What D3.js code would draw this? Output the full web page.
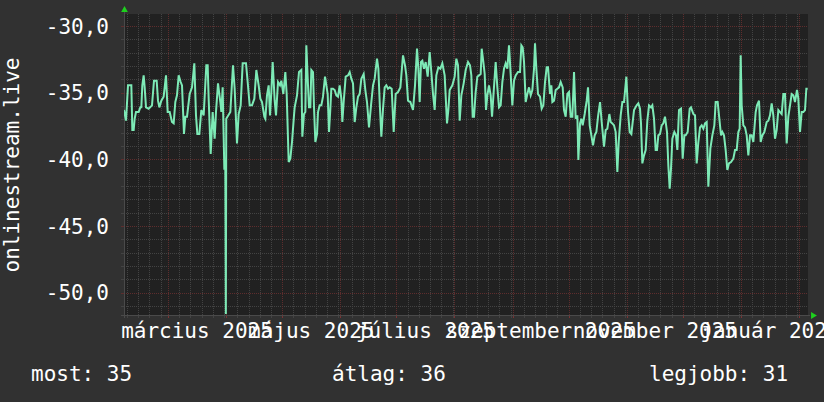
<!DOCTYPE html>
<html lang="hu">
<head>
<meta charset="UTF-8">
<title>onlinestream.live</title>
<style>
  body { margin: 0; background: #313131; }
  svg text { font-family: "DejaVu Sans Mono", monospace; font-size: 21px; fill: #fff; }
</style>
</head>
<body>
<svg id="chart" width="824" height="402"></svg>
<script src="https://d3js.org/d3.v7.min.js"></script>
<script>
// day 0 = left edge of the graph
var startDate = Date.UTC(2025, 1, 5, 12);
var totalDays = 365.3;

var dayOffsets = [
  0, 1.07, 2.14, 3.92, 4.45, 5.16, 5.7, 6.41, 7.83, 8.72, 9.26, 9.79, 10.5, 11.04, 11.75, 13.17, 14.95, 16.02, 17.45, 18.16,
  18.87, 19.94, 21.18, 22.43, 23.32, 24.39, 25.63, 26.53, 27.41, 28.3, 29.2, 30.26, 30.98, 32.04, 32.76, 33.65, 35.07, 36.32, 37.56, 38.45,
  39.17, 40.23, 41.3, 42.55, 43.97, 44.68, 45.22, 46.29, 47.35, 48.42, 49.13, 50.2, 51.45, 51.98, 52.69, 53.58, 54.12, 54.4, 54.6, 56.79,
  58.21, 59.1, 60.35, 61.24, 62.31, 63.38, 65.16, 66.05, 67.12, 68.36, 69.61, 70.68, 71.92, 72.81, 73.7, 74.95, 75.48, 76.37, 77.26, 77.98,
  78.69, 79.4, 80.47, 81.18, 82.25, 83.32, 84.03, 85.1, 86.16, 86.88, 87.95, 88.83, 89.73, 90.79,
  91.15, 92.4, 93.46, 94.71, 95.24, 96.13, 96.85, 97.38, 98.27, 98.81, 99.52, 100.05, 100.94, 101.48, 102.19, 103.08, 103.61, 104.5, 105.39, 106.28,
  107.35, 108.06, 108.77, 109.49, 110.2, 110.73, 111.62, 112.51, 113.4, 114.29, 115.18, 116.07, 116.61, 117.32, 118.39, 119.63, 120.53, 121.41, 122.31, 123.2,
  124.09, 124.98, 125.87, 126.76, 128, 128.89, 129.78, 130.85, 131.92, 132.99, 133.88, 135.12, 135.84, 136.55, 137.44, 138.33, 139.22, 140.11, 141, 141.89,
  142.96, 144.03, 145.09, 146.34, 147.59, 149.01, 150.08, 150.79, 151.68, 152.93, 154.35, 155.42, 156.49, 157.2, 157.91, 158.62, 159.34, 160.22, 161.12, 162.19,
  163.25, 164.14, 165.03, 165.92, 166.81, 167.88, 168.95, 170.02, 171.26, 172.51, 173.22, 173.93, 175.36, 176.6, 177.49, 178.39, 179.28, 180.17, 181.41,
  182.48, 183.73, 184.79, 185.5, 186.22, 186.93, 187.82, 188.71, 189.6, 190.49, 191.03, 191.92, 192.63, 193.34, 194.05, 194.94, 195.83, 196.55, 197.26, 198.5,
  199.39, 200.28, 201.17, 202.06, 202.95, 203.84, 204.73, 205.62, 206.51, 207.4, 208.29, 209.18, 210.43, 211.5, 212.21, 212.92, 213.64, 214.53, 215.42, 216.31,
  217.2, 218.09, 218.98, 219.51, 220.22, 221.11, 222.18, 223.07, 223.96, 224.85, 225.74, 226.45, 227.52, 228.23, 228.77, 229.66, 230.55, 231.44, 232.33, 233.22,
  234.29, 235, 235.89, 236.78, 237.67, 238.56, 239.45, 240.34, 241.23, 242.12, 242.66, 243.55, 244.26, 244.97, 246.04, 247.11, 247.82, 248.71, 249.6, 250.49,
  251.38, 252.27, 253.16, 254.23, 255.12, 256.36, 257.25, 258.14, 259.21, 259.92, 260.81, 261.7, 262.59, 263.48, 264.2, 265.26, 266.16, 267.04, 268.29, 269.18,
  270.07, 270.96, 272.39,
  273.8, 274.69, 275.58, 276.11, 276.83, 277.72, 278.61, 279.5, 280.39, 281.46, 282.17, 283.06, 283.95, 284.66, 285.37, 286.26, 287.15, 288.04, 288.93, 290,
  290.71, 291.43, 292.14, 292.85, 293.92, 294.81, 295.52, 296.41, 297.48, 298.37, 299.26, 299.97, 301.04, 302.11, 302.82, 304.07, 304.96, 305.85, 306.74, 307.63,
  308.52, 309.41, 310.3, 311.19, 312.08, 313.15, 314.22, 315.28, 315.99, 317.06, 317.77, 318.84, 319.55, 320.44, 321.33, 322.22, 323.11, 324.18, 325.43, 326.32,
  327.21, 328.1, 328.81, 329.35, 329.88, 330.77, 331.66, 332.55, 333.44, 334.33, 335.22, 336.11, 337.36, 338.07, 339.14, 340.03, 340.92, 341.99, 343.23, 344.12,
  345.01, 345.9, 346.79, 347.68, 348.57, 349.46, 350.35, 351.24, 352.13, 353.02, 353.91, 354.8, 355.69, 356.58, 357.47, 358.36, 359.43, 360.14, 361.03, 361.92,
  362.81, 363.7, 364.42, 365.13
];

var values = [
  -36.3, -37.1, -34.45, -34.45, -37.8, -37.8, -36.95, -36.45, -36.45, -36.1, -36.1, -34.45, -33.7, -34.6, -36.1, -36.2, -35.95, -34.1, -34.1, -35.6,
  -36.1, -35.6, -35.3, -33.7, -36.45, -36.45, -37.2, -37.3, -35.7, -35.2, -33.7, -34.2, -34.45, -38.1, -36.8, -36.8, -35.1, -34.6, -32.8, -36.7,
  -38.1, -38.1, -36.3, -36.7, -32.95, -32.95, -35.45, -39.6, -36.45, -38.45, -36.45, -34.3, -35.7, -36.45, -34.6, -40.7, -40.7, -51.6, -36.95, -36.45,
  -32.95, -34.7, -38.8, -36.6, -35.95, -32.8, -32.8, -34.2, -35.95, -35.95, -35.45, -33.3, -34.45, -35.45, -35.7, -36.8, -36.95, -35.2, -34.45, -36.7,
  -34.95, -32.7, -35.6, -36.7, -34.2, -34.45, -34.1, -35.1, -33.45, -35.1, -40.2, -39.95, -38.7, -36.7,
  -36.1, -35.2, -33.45, -33.3, -38.3, -36.6, -36.45, -31.45, -34.45, -36.1, -36.1, -33.3, -33.45, -36.1, -38.7, -38.1, -36.45, -35.95, -35.95, -35.3,
  -33.8, -34.45, -35.1, -37.95, -36.2, -34.7, -34.7, -34.8, -35.2, -35.3, -34.45, -35.45, -37.2, -35.7, -33.8, -33.7, -33.45, -33.95, -34.3, -37.2,
  -36.1, -35.3, -35.1, -33.95, -33.6, -34.8, -35.7, -37.6, -35.95, -34.45, -33.95, -32.45, -33.2, -35.7, -38.3, -36.2, -34.6, -34.45, -34.7, -34.6,
  -34.7, -37.95, -35.1, -34.95, -34.6, -32.2, -32.95, -33.7, -35.6, -35.7, -36.3, -34.45, -31.7, -33.2, -35.7, -32.7, -32.6, -33.2, -32.7, -33.8,
  -31.95, -33.45, -35.1, -36.3, -33.7, -33.1, -33.2, -32.8, -33.7, -37.3, -36.3, -34.8, -34.45, -33.8, -32.45, -32.95, -37.1, -35.2, -34.3,
  -33.3, -32.7, -32.95, -33.7, -36.8, -36.8, -34.95, -33.8, -33.7, -33.6, -31.7, -32.7, -33.6, -36.3, -35.2, -34.45, -35.2, -36.8, -35.3, -32.7,
  -34.6, -36.1, -35.95, -34.2, -33.2, -32.8, -33.2, -31.45, -33.6, -35.95, -34.1, -33.7, -33.45, -33.45, -31.45, -31.6, -32.7, -35.7, -35.1, -34.6,
  -35.2, -34.8, -33.2, -31.3, -33.2, -35.1, -35.3, -36.2, -35.95, -34.2, -33.1, -33.1, -35.1, -34.45, -35.7, -35.6, -34.8, -34.7, -34.6, -34.2,
  -34.6, -36.3, -36.8, -35.1, -34.95, -36.8, -36.8, -33.45, -36.95, -36.7, -40.05, -37.3, -36.95, -37.45, -36.6, -35.6, -34.6, -37.45, -38.2, -38.95,
  -38.2, -37.95, -36.8, -35.7, -37.2, -39.05, -37.8, -37.7, -36.6, -37.2, -37.3, -37.45, -37.95, -40.95, -38.7, -36.7, -35.7, -35.7, -33.8, -36.45,
  -37.95, -38.1, -36.3,
  -35.95, -35.8, -36.2, -37.3, -40.3, -39.7, -39.3, -37.1, -35.95, -36.1, -35.95, -36.95, -39.3, -39.3, -38.2, -38.1, -37.45, -37.3, -36.8, -37.95,
  -40.45, -42.2, -40.7, -38.45, -37.95, -38.2, -39.3, -36.3, -36.2, -39.95, -38.2, -38.2, -37.95, -36.2, -36.1, -36.6, -36.7, -40.3, -38.7, -37.6,
  -37.45, -37.7, -37.3, -37.2, -42.05, -39.2, -38.2, -37.45, -35.7, -35.7, -36.7, -38.2, -37.95, -38.2, -39.3, -40.8, -40.3, -40.2, -39.95, -39.3,
  -39.3, -37.95, -37.7, -32.2, -35.95, -37.45, -37.6, -38.2, -39.7, -38.2, -38.2, -38.7, -36.45, -35.95, -35.6, -38.7, -38.2, -37.95, -37.2, -37.1,
  -36.7, -35.8, -36.7, -38.45, -37.8, -36.3, -36.45, -36.6, -35.1, -35.1, -38.8, -36.8, -35.95, -35.1, -35.2, -35.7, -34.8, -35.45, -37.95, -36.45,
  -36.45, -36.3, -34.7, -34.7
];

var yTicks = [-50, -45, -40, -35, -30];
var labelMonths = [[2025, 2], [2025, 4], [2025, 6], [2025, 8], [2025, 10], [2026, 0]];
var monthLabels = ["március 2025", "május 2025", "július 2025", "szeptember 2025", "november 2025", "január 2026"];
var yTitle = "onlinestream.live";
var legendItems = ["most: 35", "átlag: 36", "legjobb: 31"];

var svg = d3.select("#chart");
var plotL = 124, plotR = 808, plotT = 14, plotB = 315;

var x = d3.scaleUtc()
    .domain([new Date(startDate), new Date(startDate + totalDays * 864e5)])
    .range([plotL, plotR]);
var y = d3.scaleLinear()
    .domain([-51.67, -29.1])
    .range([plotB, plotT]);

var fmt = d3.formatLocale({ decimal: ",", thousands: ".", grouping: [3], currency: ["", ""], minus: "-" }).format(".1f");

var minorCol = "#434343", majorCol = "#5e2d2d";

// canvas
svg.append("rect").attr("x", plotL).attr("y", plotT)
    .attr("width", plotR - plotL).attr("height", plotB - plotT)
    .attr("fill", "#212121");

var grid = svg.append("g").attr("shape-rendering", "crispEdges");

// horizontal grid
d3.range(-51, -29, 1).forEach(function (v) {
    var major = v % 5 === 0;
    var py = Math.round(y(v)) + 0.5;
    grid.append("line")
        .attr("x1", plotL).attr("x2", plotR).attr("y1", py).attr("y2", py)
        .attr("stroke", major ? majorCol : minorCol)
        .attr("stroke-dasharray", "1,1");
    grid.append("line")
        .attr("x1", plotL - 3).attr("x2", plotL).attr("y1", py).attr("y2", py)
        .attr("stroke", major ? majorCol : minorCol);
});

// vertical grid
var minorDays = d3.utcDay.every(6).range(x.domain()[0], x.domain()[1])
    .filter(function (d) { return d.getUTCDate() !== 1; });
var months = d3.utcMonth.range(x.domain()[0], x.domain()[1]);

minorDays.forEach(function (d) {
    var px = Math.round(x(d)) + 0.5;
    grid.append("line").attr("x1", px).attr("x2", px).attr("y1", plotT).attr("y2", plotB)
        .attr("stroke", minorCol).attr("stroke-dasharray", "1,1");
    grid.append("line").attr("x1", px).attr("x2", px).attr("y1", plotB).attr("y2", plotB + 3)
        .attr("stroke", minorCol);
});
months.forEach(function (d) {
    var px = Math.round(x(d)) + 0.5;
    grid.append("line").attr("x1", px).attr("x2", px).attr("y1", plotT).attr("y2", plotB)
        .attr("stroke", majorCol).attr("stroke-dasharray", "1,1");
    grid.append("line").attr("x1", px).attr("x2", px).attr("y1", plotB).attr("y2", plotB + 3)
        .attr("stroke", "#7a3434");
});

// axes
grid.append("line").attr("x1", plotL - 3).attr("x2", plotR + 2)
    .attr("y1", plotB + 0.5).attr("y2", plotB + 0.5).attr("stroke", "#4a4a4a");
grid.append("line").attr("x1", plotL + 0.5).attr("x2", plotL + 0.5)
    .attr("y1", plotT - 3).attr("y2", plotB + 3).attr("stroke", "#4a4a4a");
svg.append("path").attr("d", d3.symbol(d3.symbolTriangle, 20)())
    .attr("transform", "translate(" + (plotL + 0.5) + "," + (plotT - 4) + ")")
    .attr("fill", "#1ed01e");
svg.append("path").attr("d", d3.symbol(d3.symbolTriangle, 20)())
    .attr("transform", "translate(" + (plotR + 5) + "," + (plotB + 0.5) + ") rotate(90)")
    .attr("fill", "#1ed01e");

// data line
svg.append("clipPath").attr("id", "clip").append("rect")
    .attr("x", plotL).attr("y", plotT).attr("width", plotR - plotL).attr("height", plotB - plotT);

var line = d3.line()
    .x(function (d, i) { return x(new Date(startDate + dayOffsets[i] * 864e5)); })
    .y(function (d) { return y(d); });

svg.append("path")
    .datum(values)
    .attr("clip-path", "url(#clip)")
    .attr("d", line)
    .attr("fill", "none")
    .attr("stroke", "#7deab6")
    .attr("stroke-width", 2)
    .attr("stroke-linejoin", "miter");

// y labels
svg.append("g").selectAll("text").data(yTicks).enter().append("text")
    .attr("x", 109).attr("y", function (d) { return y(d) + 7.5; })
    .attr("text-anchor", "end")
    .text(function (d) { return fmt(d); });

// x labels, centred in their month
svg.append("g").selectAll("text").data(labelMonths).enter().append("text")
    .attr("x", function (m) {
        var a = new Date(Date.UTC(m[0], m[1], 1)), b = new Date(Date.UTC(m[0], m[1] + 1, 1));
        return (x(a) + x(b)) / 2;
    })
    .attr("y", 338)
    .attr("text-anchor", "middle")
    .text(function (m, i) { return monthLabels[i]; });

// y title
svg.append("text")
    .attr("transform", "translate(18.5,165) rotate(-90)")
    .attr("text-anchor", "middle")
    .text(yTitle);

// legend
var legendX = [31, 332, 649];
svg.append("g").selectAll("text").data(legendItems).enter().append("text")
    .attr("x", function (d, i) { return legendX[i]; })
    .attr("y", 381)
    .text(function (d) { return d; });
</script>
</body>
</html>
